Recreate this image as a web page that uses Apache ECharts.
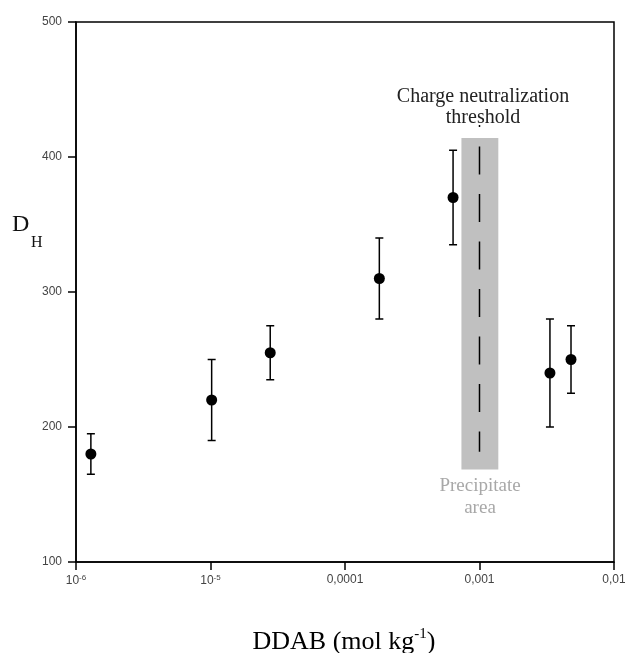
<!DOCTYPE html>
<html>
<head>
<meta charset="utf-8">
<script src="https://cdn.jsdelivr.net/npm/echarts@6/dist/echarts.min.js"></script>
<style>
html,body{margin:0;padding:0;background:#fff;}
#chart{width:625px;height:653px;}
</style>
</head>
<body>
<div id="chart"></div>
<script>
// ---- data ----
const concentration = [1.29e-6, 1.02e-5, 2.78e-5, 1.80e-4, 6.36e-4, 3.34e-3, 4.79e-3];
const dh            = [180, 220, 255, 310, 370, 240, 250];
const errLow        = [165, 190, 235, 280, 335, 200, 225];
const errHigh       = [195, 250, 275, 340, 405, 280, 275];
const bandX = [7.34e-4, 1.38e-3];
const bandY = [168.5, 414];
const thresholdX = 0.001;
const thresholdY = [423.7, 181.7];
const xTickLabels = ['10{s|-6}', '10{s|-5}', '0,0001', '0,001', '0,01'];
const yTickLabels = ['100', '200', '300', '400', '500'];

const serif = '"Liberation Serif", "DejaVu Serif", serif';
const sans = '"Liberation Sans", Arial, sans-serif';

const chart = echarts.init(document.getElementById('chart'), null, {renderer: 'canvas'});

const option = {
  backgroundColor: '#fff',
  animation: false,
  grid: {
    left: 76, right: 11, top: 22, bottom: 91,
    outerBoundsMode: 'none', containLabel: false,
    show: true, borderColor: '#000', borderWidth: 1.5, backgroundColor: 'transparent'
  },
  xAxis: {
    type: 'log', logBase: 10, min: 1e-6, max: 0.01,
    axisLine: {show: true, lineStyle: {color: '#000', width: 1.5}},
    axisTick: {show: true, inside: false, length: 8, lineStyle: {color: '#000', width: 1.5}},
    minorTick: {show: false},
    splitLine: {show: false},
    axisLabel: {
      margin: 12, color: '#444', fontFamily: sans, fontSize: 12,
      formatter: function (v) {
        const i = Math.round(Math.log10(v)) + 6;
        return xTickLabels[i] !== undefined ? xTickLabels[i] : '';
      },
      rich: {s: {fontSize: 8, color: '#444', fontFamily: sans, verticalAlign: 'top', padding: [0, 0, 6, 0]}}
    }
  },
  yAxis: {
    type: 'value', min: 100, max: 500, interval: 100,
    axisLine: {show: true, lineStyle: {color: '#000', width: 1.5}},
    axisTick: {show: true, inside: false, length: 8, lineStyle: {color: '#000', width: 1.5}},
    splitLine: {show: false},
    axisLabel: {
      margin: 14, color: '#444', fontFamily: sans, fontSize: 12,
      formatter: function (v) {
        const i = Math.round((v - 100) / 100);
        return yTickLabels[i] !== undefined ? yTickLabels[i] : '';
      }
    }
  },
  series: [
    {
      type: 'custom', name: 'Precipitate area', z: 1, silent: true,
      data: [[bandX[0], bandY[0], bandX[1], bandY[1]]],
      renderItem: function (params, api) {
        const p1 = api.coord([api.value(0), api.value(3)]);
        const p2 = api.coord([api.value(2), api.value(1)]);
        return {type: 'rect', shape: {x: p1[0], y: p1[1], width: p2[0] - p1[0], height: p2[1] - p1[1]},
                style: {fill: '#c0c0c0'}};
      }
    },
    {
      type: 'line', name: 'threshold', z: 2, silent: true, symbol: 'none',
      data: [[thresholdX, thresholdY[0]], [thresholdX, thresholdY[1]]],
      lineStyle: {color: '#000', width: 1.5, type: [28, 19.5], dashOffset: 26}
    },
    {
      type: 'custom', name: 'error', z: 3, silent: true,
      data: concentration.map((c, i) => [c, errLow[i], errHigh[i]]),
      encode: {x: 0, y: [1, 2]},
      renderItem: function (params, api) {
        const x = api.value(0);
        const lo = api.coord([x, api.value(1)]);
        const hi = api.coord([x, api.value(2)]);
        const hw = 4;
        const st = {stroke: '#000', lineWidth: 1.5};
        return {type: 'group', children: [
          {type: 'line', shape: {x1: lo[0], y1: lo[1], x2: hi[0], y2: hi[1]}, style: st},
          {type: 'line', shape: {x1: lo[0] - hw, y1: lo[1], x2: lo[0] + hw, y2: lo[1]}, style: st},
          {type: 'line', shape: {x1: hi[0] - hw, y1: hi[1], x2: hi[0] + hw, y2: hi[1]}, style: st}
        ]};
      }
    },
    {
      type: 'scatter', name: 'DH', z: 4, symbol: 'circle', symbolSize: 11,
      itemStyle: {color: '#000', opacity: 1},
      data: concentration.map((c, i) => [c, dh[i]])
    }
  ],
  graphic: [
    {type: 'text', left: 12, top: 213, style: {text: 'D', font: '24px ' + serif, fill: '#111'}},
    {type: 'text', left: 31, top: 235, style: {text: 'H', font: '16px ' + serif, fill: '#111'}},
    {type: 'text', x: 344, y: 642, style: {
      text: '{m|DDAB (mol kg}{s|-1}{m|)}', align: 'center', verticalAlign: 'middle',
      rich: {
        m: {fontSize: 26, fontFamily: serif, color: '#111', lineHeight: 30},
        s: {fontSize: 15, fontFamily: serif, color: '#111', verticalAlign: 'top', lineHeight: 30, padding: [0, 0, 12, 0]}
      }
    }},
    {type: 'text', x: 483, y: 107, style: {
      text: 'Charge neutralization\nthreshold', align: 'center', verticalAlign: 'middle',
      font: '20px ' + serif, lineHeight: 21, fill: '#222'
    }},
    {type: 'text', x: 480, y: 497, style: {
      text: 'Precipitate\narea', align: 'center', verticalAlign: 'middle',
      font: '19px ' + serif, lineHeight: 22, fill: '#a8a8a8'
    }}
  ]
};
chart.setOption(option);
</script>
</body>
</html>
